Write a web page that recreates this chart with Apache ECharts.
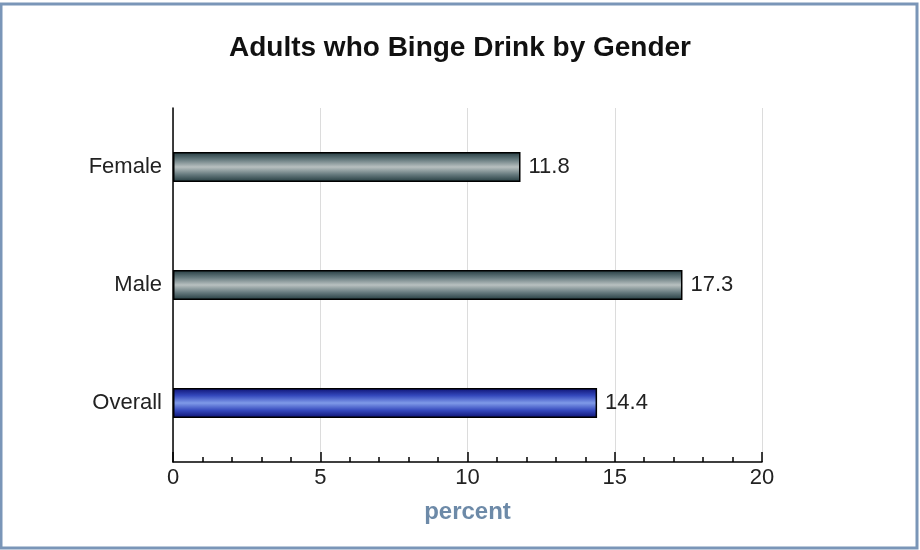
<!DOCTYPE html>
<html><head><meta charset="utf-8">
<script src="https://cdn.jsdelivr.net/npm/echarts@6/dist/echarts.min.js"></script>
<style>html,body{margin:0;padding:0;background:#fff}#c{width:920px;height:550px}</style>
</head><body><div id="c"></div>
<script>
const categories = ['Female', 'Male', 'Overall'];
const values = [11.8, 17.3, 14.4];
const barKinds = ['gray', 'gray', 'blue'];
const titleText = 'Adults who Binge Drink by Gender';
const axisName = 'percent';

function grad(kind) {
  const e = kind === 'blue' ? '#0c1070' : '#22393e';
  const m = kind === 'blue' ? '#7f9ae8' : '#b8c0c0';
  const q = kind === 'blue' ? '#3448bc' : '#667a7e';
  return new echarts.graphic.LinearGradient(0, 0, 0, 1, [
    {offset: 0, color: e}, {offset: 0.25, color: q}, {offset: 0.5, color: m},
    {offset: 0.75, color: q}, {offset: 1, color: e}
  ]);
}
const FONT = 'Liberation Sans, Arial';
const chart = echarts.init(document.getElementById('c'));
chart.setOption({
  backgroundColor: '#fff',
  animation: false,
  graphic: [{type: 'rect', shape: {x: 1, y: 4, width: 916, height: 544}, style: {fill: 'none', stroke: '#7a96b8', lineWidth: 3}, silent: true}],
  title: {text: titleText, left: 'center', top: 29, textStyle: {fontFamily: FONT, fontWeight: 'bold', fontSize: 28, color: '#111'}},
  grid: {left: 173, right: 158, top: 108, bottom: 88},
  xAxis: {
    type: 'value', min: 0, max: 20, interval: 5,
    name: axisName, nameLocation: 'middle', nameGap: 38,
    nameTextStyle: {fontFamily: FONT, fontWeight: 'bold', fontSize: 24, color: '#6d8aa8'},
    axisLine: {show: true, lineStyle: {color: '#000', width: 1.5}},
    axisTick: {show: true, inside: true, length: 10, lineStyle: {color: '#000', width: 1.5}},
    minorTick: {show: true, splitNumber: 5, length: 5, lineStyle: {color: '#000', width: 1.5}},
    axisLabel: {fontFamily: FONT, fontSize: 22, color: '#222', margin: 5},
    splitLine: {show: true, lineStyle: {color: '#dcdcdc', width: 1}}
  },
  yAxis: {
    type: 'category', data: categories, inverse: true,
    axisLine: {show: true, lineStyle: {color: '#000', width: 1.5}},
    axisTick: {show: false},
    axisLabel: {fontFamily: FONT, fontSize: 22, color: '#222', margin: 11}
  },
  series: [{
    type: 'bar', barWidth: 30,
    data: values.map((v, i) => ({value: v, itemStyle: {color: grad(barKinds[i])}})),
    itemStyle: {borderColor: '#000', borderWidth: 1.5},
    label: {show: true, position: 'right', distance: 8, fontFamily: FONT, fontSize: 22, color: '#222'}
  }]
});
</script></body></html>
